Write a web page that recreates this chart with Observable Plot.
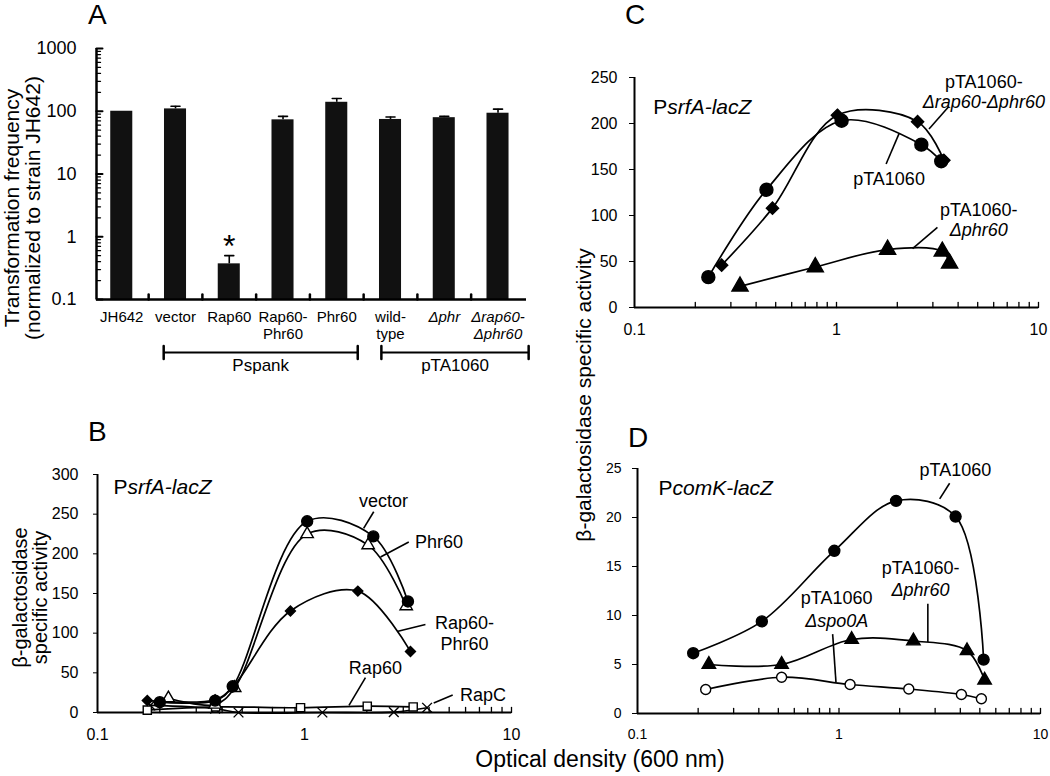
<!DOCTYPE html>
<html><head><meta charset="utf-8">
<script src="https://cdn.jsdelivr.net/npm/d3@7"></script>
<script src="https://cdn.jsdelivr.net/npm/@observablehq/plot@0.6"></script>
<style>
body{margin:0;background:#fff;}
#fig{position:relative;width:1050px;height:776px;overflow:hidden;font-family:"Liberation Sans",Arial,sans-serif;color:#000;background:#fff;}
.letter{position:absolute;font-size:28px;line-height:1;}
.rot{position:absolute;white-space:nowrap;transform:translate(-50%,-50%) rotate(-90deg);line-height:1;}
</style></head>
<body><div id="fig"></div>
<script>
// ---------- Panel A data ----------
const strainsA = ["JH642","vector","Rap60","Rap60-\nPhr60","Phr60","wild-\ntype","Δphr","Δrap60-\nΔphr60"];
const italicA = [false,false,false,false,false,false,true,true];
const freqA = [100,109,0.37,73,139,74,79,93];
const errTopA = [null,120,0.5,83,160,81,83,108];
const sigA = [false,false,true,false,false,false,false,false];
const ticksA = [0.1,1,10,100,1000];
const groupsA = ["Pspank","pTA1060"];
const groupFromA = [0.78,4.83];
const groupToA = [4.39,7.57];

// ---------- Panel B data (PsrfA-lacZ) ----------
const odB_vector = [0.20,0.37,0.45,1.03,2.15,3.16];
const actB_vector = [13,15,33,241,222,140];
const odB_phr60 = [0.22,0.37,0.46,1.03,2.03,3.10];
const actB_phr60 = [18,10,31,225,211,134];
const odB_rapphr = [0.174,0.37,0.45,0.855,1.81,3.25];
const actB_rapphr = [15,16,32,128,153,77];
const odB_rap60 = [0.174,0.372,0.957,2.01,3.35];
const actB_rap60 = [3,7,6,8,7];
const odB_rapC = [0.18,0.37,0.48,1.22,2.70,3.91];
const actB_rapC = [9,5,0,0,0.5,6];
const labelB = ["vector","Phr60","Rap60-\nPhr60","Rap60","RapC"];
const labelOdB = [2.41,4.47,5.93,2.20,7.28];
const labelActB = [267,216,100,57,23];
const leadOd1B = [2.16,3.19,3.84,1.97,5.20];
const leadAct1B = [253,215,111,44,22];
const leadOd2B = [1.93,2.33,2.80,1.64,4.21];
const leadAct2B = [232,196,102,9,12];

// ---------- Panel C data (PsrfA-lacZ) ----------
const odC_wt = [0.232,0.45,1.06,2.63,3.30];
const actC_wt = [33,128,203,177,159];
const odC_drapphr = [0.27,0.482,1.01,2.52,3.40];
const actC_drapphr = [46,108,209,202,160];
const odC_dphr = [0.333,0.785,1.79,3.34,3.63];
const actC_dphr = [23,44,63,61,48];
const labelC = ["pTA1060-","Δrap60-Δphr60","pTA1060","pTA1060-","Δphr60"];
const labelItalicC = [false,true,false,false,true];
const labelOdC = [5.36,5.36,1.82,5.06,5.06];
const labelActC = [245,223,139,106,84];
const leadOd1C = [3.58,1.76,3.16];
const leadAct1C = [218,156,87];
const leadOd2C = [2.87,2.04,2.38];
const leadAct2C = [194,189,64];

// ---------- Panel D data (PcomK-lacZ) ----------
const odD_wt = [0.189,0.414,0.948,1.92,3.79,5.22];
const actD_wt = [6.15,9.4,16.6,21.7,20.1,5.5];
const odD_dphr = [0.226,0.519,1.156,2.34,4.32,5.28];
const actD_dphr = [5.0,5.0,7.55,7.4,6.4,3.4];
const odD_spo = [0.218,0.519,1.135,2.22,4.05,5.09];
const actD_spo = [2.45,3.7,2.96,2.5,1.94,1.5];
const labelD = ["pTA1060","pTA1060-","Δphr60","pTA1060","Δspo0A"];
const labelItalicD = [false,false,true,false,true];
const labelOdD = [3.78,2.54,2.54,0.974,0.974];
const labelActD = [24.8,14.8,12.55,11.8,9.4];
const leadOd1D = [3.54,2.76,0.930];
const leadAct1D = [23.5,11.2,8.1];
const leadOd2D = [3.16,2.76,0.966];
const leadAct2D = [21.9,7.3,3.2];

// ---------- helpers ----------
const fig = document.getElementById("fig");
const FONT = "'Liberation Sans', Arial, sans-serif";
const seg = {draw(ctx, l){ ctx.moveTo(0,0); ctx.lineTo(0,-l); }};
const logTicks = [0.1,0.2,0.3,0.4,0.5,0.6,0.7,0.8,0.9,1,2,3,4,5,6,7,8,9,10];
const minorA = [];
for (const p of [0.1,1,10,100]) for (let k = 2; k <= 9; k++) minorA.push(+(p*k).toPrecision(3));
function add(node, left, top){ node.style.position="absolute"; node.style.left=left+"px"; node.style.top=top+"px"; fig.appendChild(node); }
function rows(ods, acts){ return ods.map((od,i)=>({od, act: acts[i]})); }
function idx(a){ return d3.range(a.length); }
function div(cls, html, left, top, size){ const d=document.createElement("div"); d.className=cls; d.innerHTML=html; d.style.left=left+"px"; d.style.top=top+"px"; if(size) d.style.fontSize=size+"px"; fig.appendChild(d); return d; }
function style(fs){ return {background:"transparent", overflow:"visible", fontFamily:FONT, fontSize:fs+"px", color:"#000"}; }
function series(data, sym, r, fill, stroke){
  return [
    Plot.line(data, {x:"od", y:"act", curve:"catmull-rom", stroke:"black", strokeWidth:1.7}),
    Plot.dot(data, {x:"od", y:"act", symbol:sym, r, fill, stroke, strokeWidth:1.4})
  ];
}
function xMinor(y0, len){ return Plot.vector(logTicks.slice(1), {x:d=>d, y:y0, length:len, anchor:"start", shape:seg, stroke:"black", strokeWidth:1.3}); }

// ---------- Panel A ----------
const iA = idx(strainsA);
const errA = iA.filter(i=>errTopA[i]!=null);
const gA = idx(groupsA);
const plotA = Plot.plot({
  width:530, height:380, marginLeft:96, marginRight:4, marginTop:48, marginBottom:81,
  style: style(18),
  x:{domain:[-0.47,7.53], axis:null},
  y:{type:"log", domain:[0.1,1000], ticks:ticksA, tickFormat:d=>String(d), tickSize:0, tickPadding:20, label:null},
  marks:[
    Plot.rect(iA, {x1:i=>i-0.205, x2:i=>i+0.205, y1:0.1, y2:i=>freqA[i], fill:"#111"}),
    Plot.ruleX(errA, {x:i=>i, y1:i=>freqA[i], y2:i=>errTopA[i], strokeWidth:1.6}),
    Plot.vector(errA, {x:i=>i, y:i=>errTopA[i], rotate:90, length:9, anchor:"middle", shape:seg, stroke:"black", strokeWidth:1.6}),
    Plot.ruleX([-0.47], {strokeWidth:2.5}),
    Plot.ruleY([0.1], {strokeWidth:2.5}),
    Plot.vector(minorA, {x:-0.47, y:d=>d, rotate:90, length:4, anchor:"start", shape:seg, stroke:"black", strokeWidth:1.3}),
    Plot.vector(ticksA, {x:-0.47, y:d=>d, rotate:90, length:6, anchor:"start", shape:seg, stroke:"black", strokeWidth:2}),
    Plot.vector(d3.range(0.5,7,1), {x:d=>d, y:0.1, length:5, anchor:"start", shape:seg, stroke:"black", strokeWidth:2.5}),
    Plot.text(iA.filter(i=>!italicA[i]), {x:i=>i, y:0.1, text:i=>strainsA[i], dy:10, lineAnchor:"top", fontSize:15, lineHeight:1.15}),
    Plot.text(iA.filter(i=>italicA[i]), {x:i=>i, y:0.1, text:i=>strainsA[i], dy:10, lineAnchor:"top", fontSize:15, lineHeight:1.15, fontStyle:"italic"}),
    Plot.ruleY(gA, {x1:g=>groupFromA[g], x2:g=>groupToA[g], y:0.1, dy:53, strokeWidth:2}),
    Plot.vector(gA.flatMap(g=>[groupFromA[g], groupToA[g]]), {x:d=>d, y:0.1, dy:53, length:13, anchor:"middle", shape:seg, stroke:"black", strokeWidth:2.5}),
    Plot.text(gA, {x:g=>(groupFromA[g]+groupToA[g])/2, y:0.1, dy:66, text:g=>groupsA[g], fontSize:17}),
    Plot.text(iA.filter(i=>sigA[i]), {x:i=>i, y:i=>errTopA[i], text:()=>"*", dy:-9, fontSize:32}),
    Plot.text(["Transformation frequency\n(normalized to strain JH642)"], {frameAnchor:"left", textAnchor:"middle", rotate:-90, dx:-74, dy:34, fontSize:21, lineHeight:1.0})
  ]
});
add(plotA, 0, 0);

// ---------- Panel B ----------
const plotB = Plot.plot({
  width:530, height:396, marginLeft:97, marginRight:19, marginTop:94, marginBottom:64,
  style: style(16),
  x:{type:"log", domain:[0.1,10], ticks:[0.1,1,10], tickFormat:d=>String(d), tickSize:0, tickPadding:16, label:null, fontSize:15},
  y:{domain:[0,300], ticks:[0,50,100,150,200,250,300], tickSize:4, tickPadding:15, label:null},
  marks:[
    Plot.ruleX([0.1], {strokeWidth:2}),
    Plot.ruleY([0], {strokeWidth:2}),
    xMinor(0, 5),
    ...series(rows(odB_rapC, actB_rapC), "times", 4.5, "none", "black"),
    ...series(rows(odB_rap60, actB_rap60), "square", 4.6, "white", "black"),
    ...series(rows(odB_rapphr, actB_rapphr), "diamond2", 4.5, "black", "black"),
    ...series(rows(odB_phr60, actB_phr60), "triangle", 4.6, "white", "black"),
    ...series(rows(odB_vector, actB_vector), "circle", 5.5, "black", "black"),
    Plot.link(idx(leadOd1B), {x1:i=>leadOd1B[i], y1:i=>leadAct1B[i], x2:i=>leadOd2B[i], y2:i=>leadAct2B[i], stroke:"black", strokeWidth:1.6}),
    Plot.text(idx(labelB), {x:i=>labelOdB[i], y:i=>labelActB[i], text:i=>labelB[i], fontSize:18, lineHeight:1.17}),
    Plot.text(["P"], {x:0.1195, y:284, textAnchor:"start", fontSize:21}),
    Plot.text(["srfA-lacZ"], {x:0.1195, y:284, dx:14, textAnchor:"start", fontSize:21, fontStyle:"italic"}),
    Plot.text(["β-galactosidase\nspecific activity"], {frameAnchor:"left", textAnchor:"middle", rotate:-90, dx:-67, dy:4, fontSize:20, lineHeight:1.0})
  ]
});
add(plotB, 0, 380);

// ---------- Panel C ----------
const plotC = Plot.plot({
  width:520, height:370, marginLeft:104, marginRight:12, marginTop:77, marginBottom:63,
  style: style(16),
  x:{type:"log", domain:[0.1,10], ticks:[0.1,1,10], tickFormat:d=>String(d), tickSize:0, tickPadding:16, label:null},
  y:{domain:[0,250], ticks:[0,50,100,150,200,250], tickSize:5, tickPadding:12, label:null},
  marks:[
    Plot.ruleX([0.1], {strokeWidth:2}),
    Plot.ruleY([0], {strokeWidth:2}),
    xMinor(0, 5),
    ...series(rows(odC_dphr, actC_dphr), "triangle", 6, "black", "black"),
    ...series(rows(odC_drapphr, actC_drapphr), "diamond2", 5.5, "black", "black"),
    ...series(rows(odC_wt, actC_wt), "circle", 6.5, "black", "black"),
    Plot.link(idx(leadOd1C), {x1:i=>leadOd1C[i], y1:i=>leadAct1C[i], x2:i=>leadOd2C[i], y2:i=>leadAct2C[i], stroke:"black", strokeWidth:1.6}),
    Plot.text(idx(labelC).filter(i=>!labelItalicC[i]), {x:i=>labelOdC[i], y:i=>labelActC[i], text:i=>labelC[i], fontSize:18}),
    Plot.text(idx(labelC).filter(i=>labelItalicC[i]), {x:i=>labelOdC[i], y:i=>labelActC[i], text:i=>labelC[i], fontSize:18, fontStyle:"italic"}),
    Plot.text(["P"], {x:0.124, y:218, textAnchor:"start", fontSize:21}),
    Plot.text(["srfA-lacZ"], {x:0.124, y:218, dx:14, textAnchor:"start", fontSize:21, fontStyle:"italic"})
  ]
});
add(plotC, 530, 0);

// ---------- Panel D ----------
const plotD = Plot.plot({
  width:520, height:406, marginLeft:107, marginRight:10, marginTop:98, marginBottom:63,
  style: style(14),
  x:{type:"log", domain:[0.1,10], ticks:[0.1,1,10], tickFormat:d=>String(d), tickSize:0, tickPadding:16, label:null, fontSize:15},
  y:{domain:[0,25], ticks:[0,5,10,15,20,25], tickSize:5, tickPadding:11, label:null},
  marks:[
    Plot.ruleX([0.1], {strokeWidth:2}),
    Plot.ruleY([0], {strokeWidth:2}),
    xMinor(0, 5),
    ...series(rows(odD_spo, actD_spo), "circle", 5, "white", "black"),
    ...series(rows(odD_dphr, actD_dphr), "triangle", 5, "black", "black"),
    ...series(rows(odD_wt, actD_wt), "circle", 5.5, "black", "black"),
    Plot.link(idx(leadOd1D), {x1:i=>leadOd1D[i], y1:i=>leadAct1D[i], x2:i=>leadOd2D[i], y2:i=>leadAct2D[i], stroke:"black", strokeWidth:1.6}),
    Plot.text(idx(labelD).filter(i=>!labelItalicD[i]), {x:i=>labelOdD[i], y:i=>labelActD[i], text:i=>labelD[i], fontSize:18}),
    Plot.text(idx(labelD).filter(i=>labelItalicD[i]), {x:i=>labelOdD[i], y:i=>labelActD[i], text:i=>labelD[i], fontSize:18, fontStyle:"italic"}),
    Plot.text(["P"], {x:0.1272, y:23.03, textAnchor:"start", fontSize:21}),
    Plot.text(["comK-lacZ"], {x:0.1272, y:23.03, dx:14, textAnchor:"start", fontSize:21, fontStyle:"italic"})
  ]
});
add(plotD, 530, 370);

// ---------- shared text ----------
div("letter","A",88,1);
div("letter","B",88,418);
div("letter","C",625,1);
div("letter","D",628,424);
div("rot","β-galactosidase specific activity",583,395,21);
const od = div("rot","Optical density (600 nm)",600,759,23);
od.style.transform="translate(-50%,-50%)";
</script></body></html>
